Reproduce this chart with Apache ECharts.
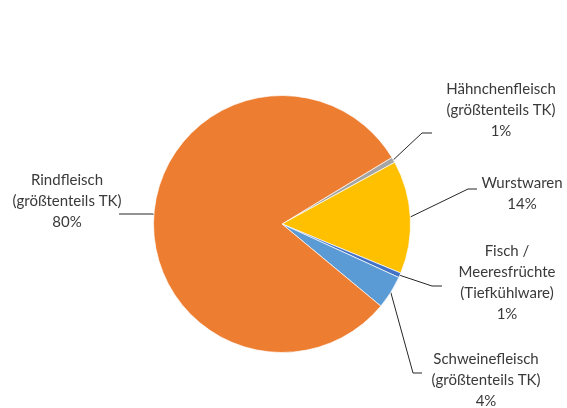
<!DOCTYPE html>
<html>
<head>
<meta charset="utf-8">
<script src="https://cdn.jsdelivr.net/npm/echarts@6/dist/echarts.min.js"></script>
<style>
  html, body { margin: 0; padding: 0; background: #fff; }
  #main { width: 567px; height: 408px; }
</style>
</head>
<body>
<div id="main"></div>
<script>
// data, clockwise starting from the grey slice
var categories = [
  'Hähnchenfleisch\n(größtenteils TK)',
  'Wurstwaren',
  'Fisch /\nMeeresfrüchte\n(Tiefkühlware)',
  'Schweinefleisch\n(größtenteils TK)',
  'Rindfleisch\n(größtenteils TK)'
];
var values = [0.7, 14.2, 0.6, 4.2, 80.3];
var colors = ['#A5A5A5', '#FFC000', '#4472C4', '#5B9BD5', '#ED7D31'];

// where each label sits: [text centre x, text centre y, elbow x, elbow y, end x]
var labelPos = [
  [501, 110, 422, 133, 432],
  [522, 194, 468, 189, 477],
  [507, 283, 432, 286, 442],
  [486, 380, 413, 373, 422],
  [67, 201, 153, 214, 119]
];

var chart = echarts.init(document.getElementById('main'));

var pieData = [];
for (var i = 0; i < categories.length; i++) {
  pieData.push({ name: categories[i], value: values[i], itemStyle: { color: colors[i] } });
}

chart.setOption({
  animation: false,
  series: [{
    type: 'pie',
    center: [282, 224],
    radius: 128.5,
    startAngle: 31.2,
    clockwise: true,
    percentPrecision: 0,
    data: pieData,
    itemStyle: { borderColor: '#fff', borderWidth: 0.7 },
    label: {
      show: true,
      formatter: '{b}\n{d}%',
      fontFamily: 'Lato',
      fontSize: 15,
      lineHeight: 21,
      color: '#3a3a3a',
      align: 'center',
      overflow: 'none',
      width: 200
    },
    labelLine: {
      show: true,
      lineStyle: { color: '#262626', width: 1 }
    },
    labelLayout: function (params) {
      var p = labelPos[params.dataIndex];
      var start = params.labelLinePoints ? params.labelLinePoints[0] : [p[2], p[3]];
      return {
        x: p[0],
        y: p[1],
        align: 'center',
        verticalAlign: 'middle',
        labelLinePoints: [start, [p[2], p[3]], [p[4], p[3]]]
      };
    }
  }]
});
</script>
</body>
</html>
